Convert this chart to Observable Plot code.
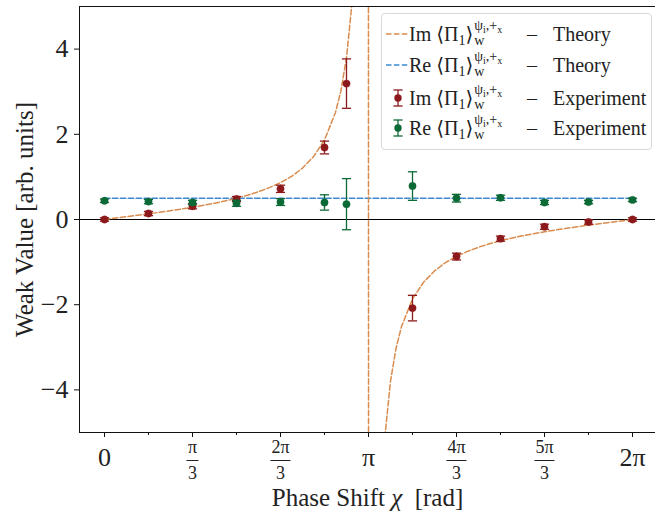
<!DOCTYPE html>
<html><head><meta charset="utf-8">
<script src="https://cdn.jsdelivr.net/npm/d3@7"></script>
<script src="https://cdn.jsdelivr.net/npm/@observablehq/plot@0.6"></script>
<style>
body{margin:0;background:#fff;}
#wrap{position:relative;width:655px;height:515px;font-family:"Liberation Serif","Times New Roman",Tinos,"DejaVu Serif",serif;color:#222;}
#wrap svg.chart{position:absolute;left:0;top:0;}
.leg{position:absolute;left:381px;top:13px;width:271px;height:137px;border:1px solid #d9d9d9;border-radius:4px;background:rgba(255,255,255,0.85);box-sizing:border-box;}
.row{position:absolute;left:0;height:30px;width:100%;font-size:20px;}
.row svg{position:absolute;left:2px;top:0;}
.lab{position:absolute;left:27px;top:0;line-height:30px;white-space:nowrap;}
.s1{font-size:14px;position:relative;top:4px;}
.sc{display:inline-block;position:relative;width:40px;height:30px;vertical-align:top;}
.sp{position:absolute;left:1px;top:0px;font-size:14px;line-height:14px;white-space:nowrap;}
.sb{position:absolute;left:1px;top:15px;font-size:14px;line-height:14px;}
.ss{font-size:10px;position:relative;top:3px;}
.dash{position:absolute;left:145px;line-height:30px;}
.word{position:absolute;left:171px;line-height:30px;}
</style>
</head><body>
<div id="wrap"></div>
<script>
// ---- data ----
const chi   = [0, 0.5236, 1.0472, 1.5708, 2.0944, 2.6180, 2.8798, 3.6652, 4.1888, 4.7124, 5.2360, 5.7596, 6.2832];
const imVal = [0.00, 0.14, 0.31, 0.48, 0.72, 1.69, 3.19, -2.08, -0.87, -0.45, -0.17, -0.06, 0.00];
const imErr = [0.04, 0.05, 0.06, 0.06, 0.085, 0.15, 0.58, 0.30, 0.08, 0.06, 0.06, 0.05, 0.04];
const reVal = [0.44, 0.42, 0.40, 0.38, 0.41, 0.40, 0.36, 0.785, 0.50, 0.51, 0.40, 0.41, 0.46];
const reErr = [0.04, 0.05, 0.05, 0.07, 0.08, 0.18, 0.60, 0.335, 0.09, 0.06, 0.05, 0.04, 0.04];

// theory
const thChi = [0, 0.1309, 0.2618, 0.3927, 0.5236, 0.6545, 0.7854, 0.9163, 1.0472, 1.1781, 1.3090, 1.4399, 1.5708,
  1.7017, 1.8326, 1.9635, 2.0944, 2.2253, 2.3562, 2.4871, 2.6180, 2.7489, 2.8144, 2.8798, 2.9452, 3.0107, 3.1406,
  3.1426, 3.2725, 3.3379, 3.4034, 3.4688, 3.5343, 3.6652, 3.7961, 3.9270, 4.0579, 4.1888, 4.3197, 4.4506, 4.5815,
  4.7124, 4.8433, 4.9742, 5.1051, 5.2360, 5.3669, 5.4978, 5.6287, 5.7596, 5.8905, 6.0214, 6.1523, 6.2832];
const thIm = [0, 0.0328, 0.0658, 0.0995, 0.1340, 0.1697, 0.2071, 0.2466, 0.2887, 0.3341, 0.3837, 0.4385, 0.5,
  0.5701, 0.6516, 0.7483, 0.8660, 1.0102, 1.2071, 1.4743, 1.8660, 2.5137, 3.0284, 3.7979, 5.0766, 7.6285, 8,
  -8, -7.6285, -5.0766, -3.7979, -3.0284, -2.5137, -1.8660, -1.4743, -1.2071, -1.0102, -0.8660, -0.7483, -0.6516, -0.5701,
  -0.5, -0.4385, -0.3837, -0.3341, -0.2887, -0.2466, -0.2071, -0.1697, -0.1340, -0.0995, -0.0658, -0.0328, 0];
const reThChi = [0, 6.2832];
const reThVal = [0.5, 0.5];

const xMajor = [0, 1.0472, 2.0944, 3.1416, 4.1888, 5.2360, 6.2832];
const xNum   = ["0", "π", "2π", "π", "4π", "5π", "2π"];
const xDen   = ["", "3", "3", "", "3", "3", ""];
const xMinor = [0.5236, 1.5708, 2.6180, 3.6652, 4.7124, 5.7596];
const yTicks = [-4, -2, 0, 2, 4];
const xDomain = [-0.2975, 6.557];
const yDomain = [-5, 5];

const legPart = ["Im", "Re", "Im", "Re"];
const legKind = ["Theory", "Theory", "Experiment", "Experiment"];

const cImTh = "#d98c4e", cReTh = "#3d8ad0", cIm = "#8c1a1c", cRe = "#0b6a36";

// ---- build ----
const exp = chi.map((c, i) => ({chi: c, im: imVal[i], imErr: imErr[i], re: reVal[i], reErr: reErr[i]}));
const imTh = thChi.map((c, i) => ({chi: c, v: thIm[i]}));
const reTh = reThChi.map((c, i) => ({chi: c, v: reThVal[i]}));
const singles = xMajor.map((v, i) => ({v, num: xNum[i], den: xDen[i]})).filter(d => !d.den);
const fracs = xMajor.map((v, i) => ({v, num: xNum[i], den: xDen[i]})).filter(d => d.den);
const hline = {draw(ctx, size) { const r = Math.sqrt(size / Math.PI); ctx.moveTo(-r, 0); ctx.lineTo(r, 0); }};
const font = "'Liberation Serif', 'Times New Roman', Tinos, 'DejaVu Serif', serif";
const dash = "5.5,2.4";

function errMarks(key, errKey, color) {
  return [
    Plot.ruleX(exp, {x: "chi", y1: d => d[key] - d[errKey], y2: d => d[key] + d[errKey], stroke: color, strokeWidth: 1.3}),
    Plot.dot(exp, {x: "chi", y: d => d[key] - d[errKey], symbol: hline, r: 4.6, stroke: color, fill: "none", strokeWidth: 1.3}),
    Plot.dot(exp, {x: "chi", y: d => d[key] + d[errKey], symbol: hline, r: 4.6, stroke: color, fill: "none", strokeWidth: 1.3}),
    Plot.dot(exp, {x: "chi", y: key, r: 3.7, fill: color, stroke: color, strokeOpacity: 0.35, strokeWidth: 1})
  ];
}

const chart = Plot.plot({
  width: 655, height: 515,
  marginLeft: 79, marginRight: 0, marginTop: 6, marginBottom: 83,
  x: {domain: xDomain, axis: null},
  y: {domain: yDomain, axis: null},
  style: {fontFamily: font, background: "transparent", color: "#222"},
  marks: [
    Plot.ruleY([0], {stroke: "#000", strokeWidth: 1}),
    Plot.line(reTh, {x: "chi", y: "v", stroke: cReTh, strokeWidth: 1.5, strokeDasharray: dash}),
    Plot.line(imTh, {x: "chi", y: "v", stroke: cImTh, strokeWidth: 1.5, strokeDasharray: dash, clip: true}),
    ...errMarks("im", "imErr", cIm),
    ...errMarks("re", "reErr", cRe),
    Plot.ruleY(yDomain, {stroke: "#111", strokeWidth: 1}),
    Plot.ruleX([xDomain[0]], {stroke: "#111", strokeWidth: 1}),
    Plot.axisY(yTicks, {tickSize: 5, tickPadding: 6, fontSize: 26, fontFamily: font, label: null, stroke: "#111",
      tickFormat: d => d < 0 ? "\u2212" + (-d) : String(d)}),
    Plot.axisX(xMajor, {tickSize: 5, label: null, stroke: "#111", tickFormat: () => ""}),
    Plot.axisX(xMinor, {tickSize: 3, label: null, stroke: "#111", tickFormat: () => ""}),
    Plot.text(singles, {x: "v", text: "num", frameAnchor: "bottom", lineAnchor: "middle", dy: 25, fontSize: 26, fontFamily: font, fill: "#222"}),
    Plot.text(fracs, {x: "v", text: "num", frameAnchor: "bottom", lineAnchor: "middle", dy: 15, fontSize: 18, fontFamily: font, fill: "#222"}),
    Plot.text(fracs, {x: "v", text: "den", frameAnchor: "bottom", lineAnchor: "middle", dy: 41, fontSize: 18, fontFamily: font, fill: "#222"}),
    Plot.dot(fracs.filter(d => d.num.length === 1), {x: "v", frameAnchor: "bottom", dy: 28, symbol: hline, r: 6, stroke: "#222", strokeWidth: 1}),
    Plot.dot(fracs.filter(d => d.num.length > 1), {x: "v", frameAnchor: "bottom", dy: 28, symbol: hline, r: 10, stroke: "#222", strokeWidth: 1}),
    Plot.text(["Phase Shift χ  [rad]"], {frameAnchor: "bottom", lineAnchor: "middle", textAnchor: "middle", dy: 65, fontSize: 25, fontFamily: font, fill: "#222"}),
    Plot.text(["Weak Value [arb. units]"], {frameAnchor: "left", lineAnchor: "middle", textAnchor: "middle", dx: -55, rotate: -90, fontSize: 25, fontFamily: font, fill: "#222"})
  ]
});
chart.classList.add("chart");
const wrap = document.getElementById("wrap");
wrap.appendChild(chart);

// italic chi
d3.select(chart).selectAll("text").filter(function() { return this.textContent === "Phase Shift χ  [rad]"; })
  .each(function() {
    const t = d3.select(this);
    t.text(null);
    t.append("tspan").text("Phase Shift ");
    t.append("tspan").attr("font-style", "italic").text("χ");
    t.append("tspan").text("\u00a0 [rad]");
  });

// ---- legend ----
const leg = document.createElement("div");
leg.className = "leg";
const centers = [20, 50.5, 83.5, 114];
legPart.forEach((p, i) => {
  const row = document.createElement("div");
  row.className = "row";
  row.style.top = (centers[i] - 15) + "px";
  let handle;
  if (legKind[i] === "Theory") {
    const c = p === "Im" ? cImTh : cReTh;
    handle = `<svg width="26" height="30"><line x1="2" x2="25" y1="15" y2="15" stroke="${c}" stroke-width="1.5" stroke-dasharray="${dash}"/></svg>`;
  } else {
    const c = p === "Im" ? cIm : cRe;
    handle = `<svg width="26" height="30"><line x1="14" x2="14" y1="7" y2="23" stroke="${c}" stroke-width="1.3"/>`
      + `<line x1="9.4" x2="18.6" y1="7" y2="7" stroke="${c}" stroke-width="1.3"/>`
      + `<line x1="9.4" x2="18.6" y1="23" y2="23" stroke="${c}" stroke-width="1.3"/>`
      + `<circle cx="14" cy="15" r="3.7" fill="${c}"/></svg>`;
  }
  row.innerHTML = handle
    + `<span class="lab">${p} ⟨Π<span class="s1">1</span>⟩<span class="sc"><span class="sp">ψ<span class="ss">i</span>,+<span class="ss">x</span></span><span class="sb">w</span></span></span>`
    + `<span class="dash">–</span><span class="word">${legKind[i]}</span>`;
  leg.appendChild(row);
});
wrap.appendChild(leg);
</script>
</body></html>
